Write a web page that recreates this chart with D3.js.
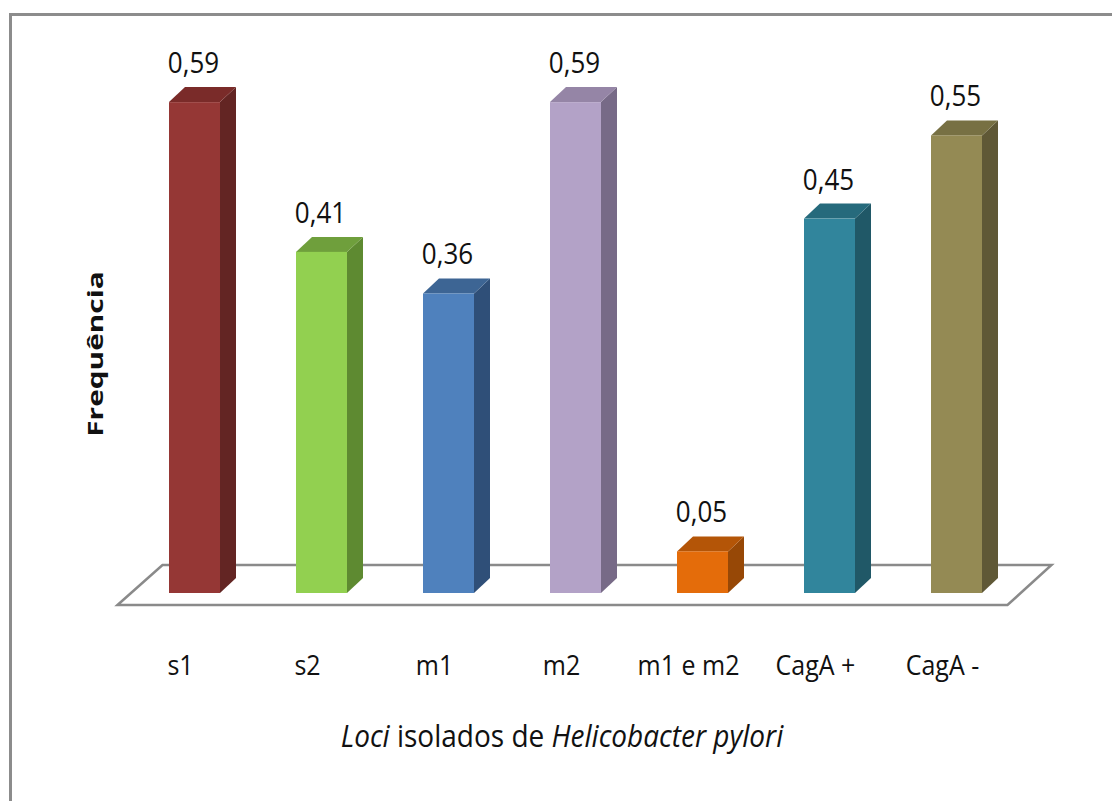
<!DOCTYPE html>
<html>
<head>
<meta charset="utf-8">
<script src="https://cdn.jsdelivr.net/npm/d3@7/dist/d3.min.js"></script>
<style>
  body { margin: 0; background: #fff; }
  text { font-family: "Open Sans", "Noto Sans", sans-serif; fill: #111; }
</style>
</head>
<body>
<div id="chart"></div>
<script>
// data
const categories = ["s1", "s2", "m1", "m2", "m1 e m2", "CagA +", "CagA -"];
const frequencies = [0.59, 0.41, 0.36, 0.59, 0.05, 0.45, 0.55];
const valueLabels = ["0,59", "0,41", "0,36", "0,59", "0,05", "0,45", "0,55"];

const frontColors = ["#953735", "#92d050", "#4f81bd", "#b3a2c7", "#e46c0a", "#31859c", "#948a54"];
const topColors   = ["#7a2b29", "#6f9f3c", "#3d6594", "#9585a6", "#b45507", "#266a7c", "#777043"];
const sideColors  = ["#632523", "#5e8a31", "#2f4f78", "#776a87", "#974806", "#205867", "#5f5836"];

const W = 1112, H = 801;
const depth = {dx: 16, dy: 15};
const barW = 51;

const svg = d3.select("#chart").append("svg")
    .attr("width", W)
    .attr("height", H);

// chart area border (runs off the right/bottom edge like the original)
svg.append("rect")
    .attr("x", 10.5).attr("y", 14.5)
    .attr("width", 1200).attr("height", 900)
    .attr("fill", "#fff")
    .attr("stroke", "#8c8c8c")
    .attr("stroke-width", 3);

// scales
let x = d3.scalePoint()
    .domain(categories)
    .range([194.5, 956.5]);

let y = d3.scaleLinear()
    .domain([0, 0.6])
    .range([593, 593 - 0.6 * 832]);

// floor (3D base plane)
const floorFront = y(0) + 12, floorBack = y(0) - 28;
const xl = x(categories[0]) - 77, xr = x(categories[categories.length - 1]) + 51;
svg.append("path")
    .attr("d", d3.line()([
        [xl, floorFront], [xl + 45, floorBack],
        [xr + 44, floorBack], [xr, floorFront]
    ]) + "Z")
    .attr("fill", "#fff")
    .attr("stroke", "#8a8a8a")
    .attr("stroke-width", 2.5)
    .attr("stroke-linejoin", "miter");

// bars
const data = categories.map((c, i) => ({cat: c, value: frequencies[i], label: valueLabels[i], i: i}));

let bars = svg.selectAll(".bar")
    .data(data)
    .enter().append("g")
    .attr("class", "bar");

bars.append("path")   // side face
    .attr("d", d => {
        let x1 = x(d.cat) + barW / 2, yt = y(d.value), yb = y(0);
        return d3.line()([[x1, yt], [x1 + depth.dx, yt - depth.dy], [x1 + depth.dx, yb - depth.dy], [x1, yb]]) + "Z";
    })
    .attr("fill", d => sideColors[d.i]);

bars.append("path")   // top face
    .attr("d", d => {
        let x0 = x(d.cat) - barW / 2, x1 = x(d.cat) + barW / 2, yt = y(d.value);
        return d3.line()([[x0, yt], [x0 + depth.dx, yt - depth.dy], [x1 + depth.dx, yt - depth.dy], [x1, yt]]) + "Z";
    })
    .attr("fill", d => topColors[d.i]);

bars.append("rect")   // front face
    .attr("x", d => x(d.cat) - barW / 2)
    .attr("y", d => y(d.value))
    .attr("width", barW)
    .attr("height", d => y(0) - y(d.value))
    .attr("fill", d => frontColors[d.i]);

// value labels (text in the original is a little stretched vertically)
bars.append("text")
    .attr("transform", d => `translate(${x(d.cat) - 1},${y(d.value) - 29}) scale(1,1.12)`)
    .attr("text-anchor", "middle")
    .attr("font-size", 26)
    .text(d => d.label);

// category labels
svg.selectAll(".cat-label")
    .data(categories)
    .enter().append("text")
    .attr("class", "cat-label")
    .attr("transform", d => `translate(${x(d) - 14},675) scale(1,1.12)`)
    .attr("text-anchor", "middle")
    .attr("font-size", 25)
    .text(d => d);

// x axis title
let xt = svg.append("text")
    .attr("transform", "translate(562,747) scale(1,1.1)")
    .attr("text-anchor", "middle")
    .attr("font-size", 28);
xt.append("tspan").attr("font-style", "italic").text("Loci");
xt.append("tspan").text("  isolados de ");
xt.append("tspan").attr("font-style", "italic").text("Helicobacter pylori");

// y axis title
svg.append("text")
    .attr("transform", "translate(103,354) rotate(-90) scale(1.42,1)")
    .attr("text-anchor", "middle")
    .attr("font-size", 21)
    .attr("font-weight", "bold")
    .text("Frequência");
</script>
</body>
</html>
